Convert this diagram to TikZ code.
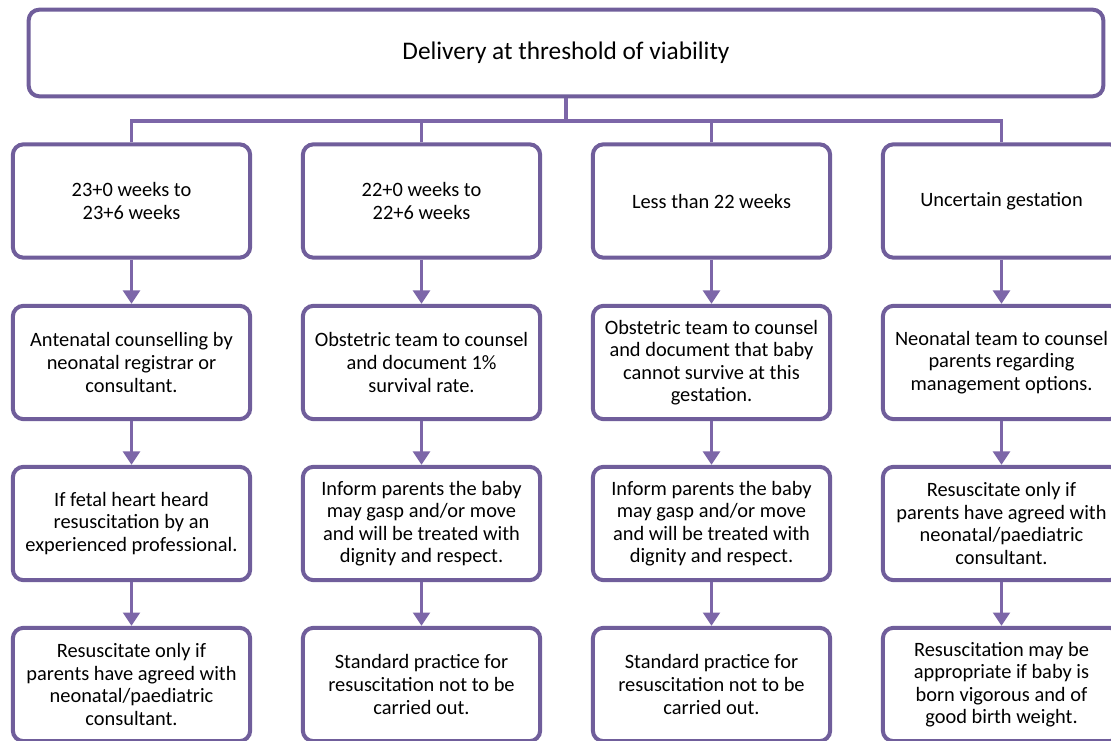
\documentclass[tikz,border=0pt]{standalone}
\usepackage{fontspec}
\setmainfont{Carlito}
\usetikzlibrary{arrows.meta,positioning}
\definecolor{boxline}{RGB}{112,94,155}
\definecolor{linkline}{RGB}{124,102,168}
\tikzset{
  stagebox/.style={draw=boxline, line width=3pt, rounded corners=8pt, fill=white,
    minimum width=178pt, minimum height=85pt, align=center, inner sep=2pt,
    font=\fontsize{15.3}{16.9}\selectfont},
  link/.style={draw=linkline, line width=2.7pt},
  flow/.style={link, -{Triangle[width=12.5pt,length=10pt]}}
}
\begin{document}
\begin{tikzpicture}[x=0.75pt,y=-0.75pt]
  \useasboundingbox (0,0) rectangle (1111,741);
  \clip (0,0) rectangle (1111,741);

  % Title box
  \node[stagebox, minimum width=806pt, minimum height=65pt,
        font=\fontsize{19}{22}\selectfont] (top) at (566,53)
        {Delivery at threshold of viability};

  % Gestation row
  \node[stagebox] (g1) at (131.5,201) {23+0 weeks to\\23+6 weeks};
  \node[stagebox] (g2) at (421.5,201) {22+0 weeks to\\22+6 weeks};
  \node[stagebox] (g3) at (711.5,201) {Less than 22 weeks};
  \node[stagebox] (g4) at (1001.5,201) {Uncertain gestation};

  % Counselling row
  \node[stagebox] (c1) at (131.5,362.5) {Antenatal counselling by\\neonatal registrar or\\consultant.};
  \node[stagebox] (c2) at (421.5,362.5) {Obstetric team to counsel\\and document 1\%\\survival rate.};
  \node[stagebox] (c3) at (711.5,362.5) {Obstetric team to counsel\\and document that baby\\cannot survive at this\\gestation.};
  \node[stagebox] (c4) at (1001.5,362.5) {Neonatal team to counsel\\parents regarding\\management options.};

  % Information row
  \node[stagebox] (i1) at (131.5,523.5) {If fetal heart heard\\resuscitation by an\\experienced professional.};
  \node[stagebox] (i2) at (421.5,523.5) {Inform parents the baby\\may gasp and/or move\\and will be treated with\\dignity and respect.};
  \node[stagebox] (i3) at (711.5,523.5) {Inform parents the baby\\may gasp and/or move\\and will be treated with\\dignity and respect.};
  \node[stagebox] (i4) at (1001.5,523.5) {Resuscitate only if\\parents have agreed with\\neonatal/paediatric\\consultant.};

  % Outcome row
  \node[stagebox] (r1) at (131.5,684.5) {Resuscitate only if\\parents have agreed with\\neonatal/paediatric\\consultant.};
  \node[stagebox] (r2) at (421.5,684.5) {Standard practice for\\resuscitation not to be\\carried out.};
  \node[stagebox] (r3) at (711.5,684.5) {Standard practice for\\resuscitation not to be\\carried out.};
  \node[stagebox] (r4) at (1001.5,684.5) {Resuscitation may be\\appropriate if baby is\\born vigorous and of\\good birth weight.};

  % Branching from the title
  \coordinate (bus) at (566,121);
  \draw[link] (top.south) -- (bus);
  \draw[link] (g1.north) -- (g1.north |- bus) -| (g4.north);
  \draw[link] (g2.north) -- (g2.north |- bus);
  \draw[link] (g3.north) -- (g3.north |- bus);

  % Arrows down each column
  \foreach \col in {1,2,3,4} {
    \draw[flow] (g\col) -- (c\col);
    \draw[flow] (c\col) -- (i\col);
    \draw[flow] (i\col) -- (r\col);
  }
\end{tikzpicture}
\end{document}
